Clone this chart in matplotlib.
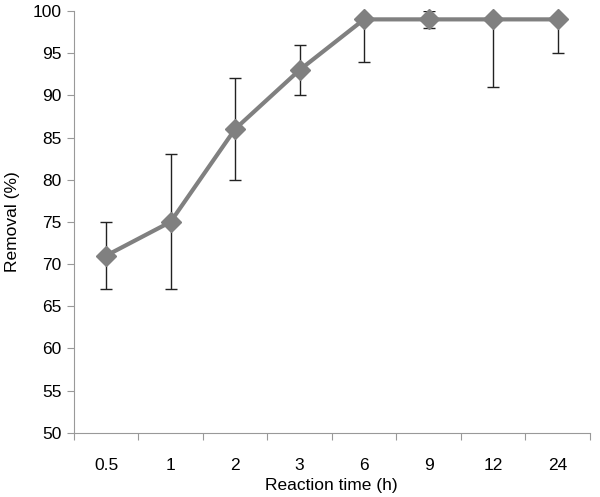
import numpy as np
import matplotlib
matplotlib.use('Agg')
import matplotlib.pyplot as plt

plt.rcParams['font.family'] = ['Liberation Sans', 'DejaVu Sans']

times = ['0.5', '1', '2', '3', '6', '9', '12', '24']
removal = [71, 75, 86, 93, 99, 99, 99, 99]
err_low = [4, 8, 6, 3, 5, 1, 8, 4]
err_high = [4, 8, 6, 3, 0, 1, 0, 0]

fig = plt.figure(figsize=(6.0, 4.97), dpi=100)
ax = fig.add_axes([0.123, 0.129, 0.860, 0.849])

x = np.arange(len(times))
ax.errorbar(x, removal, yerr=[err_low, err_high], fmt='none', ecolor='#222222',
            elinewidth=1.0, capsize=4, capthick=1.0, zorder=2)
ax.plot(x, removal, color='#808080', lw=3, marker='D', ms=10,
        mfc='#808080', mec='#808080', zorder=3, clip_on=False)

ax.set_xlim(-0.5, len(times) - 0.5)
ax.set_ylim(50, 100)
ax.set_yticks(np.arange(50, 101, 5))

ax.set_xticks(np.arange(-0.5, len(times), 1.0))
ax.set_xticklabels([])
ax.set_xticks(x, minor=True)
ax.set_xticklabels(times, minor=True)
ax.tick_params(axis='x', which='minor', length=0, pad=18, labelsize=12.5)
ax.tick_params(axis='x', which='major', length=5, color='#999999', direction='out')
ax.tick_params(axis='y', length=5, color='#999999', labelsize=12.5, pad=4)

for s in ['top', 'right']:
    ax.spines[s].set_visible(False)
for s in ['left', 'bottom']:
    ax.spines[s].set_color('#999999')

ax.set_xlabel('Reaction time (h)', fontsize=12.5, labelpad=3.5)
ax.set_ylabel('Removal (%)', fontsize=12.5, labelpad=9)

fig.savefig('out.png', dpi=100)
